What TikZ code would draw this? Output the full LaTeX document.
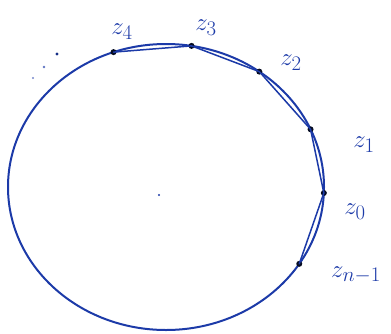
\documentclass[tikz,border=0pt]{standalone}
\usetikzlibrary{calc}
\definecolor{pen}{RGB}{28,58,168}
\begin{document}
\begin{tikzpicture}[x=1pt,y=-1pt,
  curve/.style={draw=pen,line width=2pt,line cap=round,line join=round},
  chord/.style={draw=pen,line width=1.5pt,line cap=round},
  pt/.style={circle,fill=black!80!pen,inner sep=0pt,minimum size=6pt},
  lbl/.style={text=pen,font=\fontsize{28}{28}\selectfont}]
\useasboundingbox (0,0) rectangle (391,333);
\coordinate (c) at (166,187);
% circle
\draw[curve] (c) ellipse [x radius=158, y radius=143];
% points on the circle
\node[pt] (z0) at ($(c)+({158*cos(-2.4)},{-143*sin(-2.4)})$) {};
\node[pt] (z1) at ($(c)+({158*cos(23.8)},{-143*sin(23.8)})$) {};
\node[pt] (z2) at ($(c)+({158*cos(53.8)},{-143*sin(53.8)})$) {};
\node[pt] (z3) at ($(c)+({158*cos(80.7)},{-143*sin(80.7)})$) {};
\node[pt] (z4) at ($(c)+({158*cos(109.4)},{-143*sin(109.4)})$) {};
\node[pt] (zn) at ($(c)+({158*cos(-32.5)},{-143*sin(-32.5)})$) {};
% chords
\draw[chord] (z4.center) -- (z3.center);
\draw[chord] (z3.center) -- (z2.center);
\draw[chord] (z2.center) -- (z1.center);
\draw[chord] (z1.center) -- (z0.center);
\draw[chord] (z0.center) -- (zn.center);
% centre
\node[circle,fill=pen,inner sep=0pt,minimum size=2.4pt] (m) at (159,195) {};
% dots
\node[circle,fill=pen!80!black,inner sep=0pt,minimum size=3.2pt] (d1) at (57,54) {};
\node[circle,fill=pen!70,inner sep=0pt,minimum size=2.6pt] (d2) at (44,67) {};
\node[circle,fill=pen!60,inner sep=0pt,minimum size=2.4pt] (d3) at (33,78) {};
% labels
\node[lbl] (l4) at (122,32) {$z_4$};
\node[lbl] (l3) at (206,28) {$z_3$};
\node[lbl] (l2) at (291,63) {$z_2$};
\node[lbl] (l1) at (364,145) {$z_1$};
\node[lbl] (l0) at (355,212) {$z_0$};
\node[lbl] (ln) at (356,275) {$z_{n-1}$};
\end{tikzpicture}
\end{document}
